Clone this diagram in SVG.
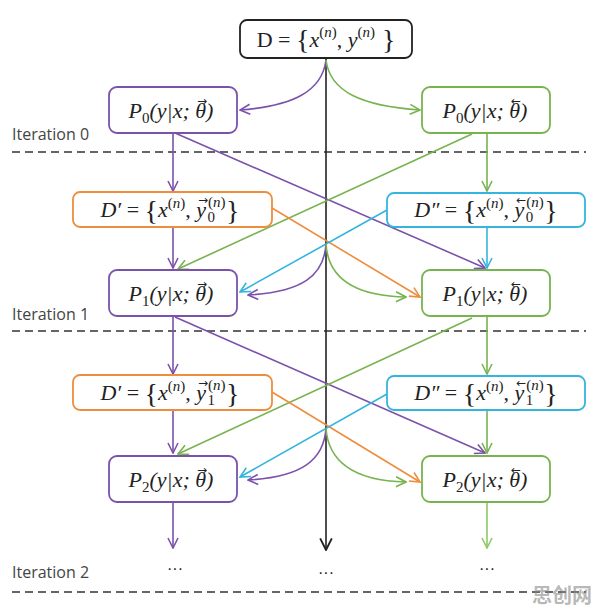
<svg xmlns="http://www.w3.org/2000/svg" width="596" height="609" viewBox="0 0 596 609">
<style>
.box{fill:#fff;stroke-width:1.8}
.pu{stroke:#7b52ab}.gr{stroke:#77b34f}.or{stroke:#ee8d3d}.cy{stroke:#33b5de}.bk{stroke:#222}.lg{stroke:#8dc966}
.m{font-family:"Liberation Serif","DejaVu Serif",serif;font-size:22px;fill:#222}
.i{font-style:italic}
.n{font-style:normal}
.s{font-size:15px}
.a{font-family:"DejaVu Sans",sans-serif;font-size:12px;font-style:normal}
.br{font-size:28px;font-style:normal}
.it{font-family:"Open Sans","Liberation Sans",sans-serif;font-size:16px;fill:#444}
.dots{font-family:"Liberation Sans",sans-serif;font-size:16px;fill:#222}
.dash{stroke:#333;stroke-width:1.6;stroke-dasharray:8 5;fill:none}
.c{fill:none;stroke-width:1.6}
</style>
<defs>
<marker id="aPu" viewBox="0 0 12 12" refX="11" refY="6" markerWidth="12" markerHeight="12" markerUnits="userSpaceOnUse" orient="auto"><path d="M1,1 L11,6 L1,11" fill="none" stroke="#7b52ab" stroke-width="1.6"/></marker>
<marker id="aGr" viewBox="0 0 12 12" refX="11" refY="6" markerWidth="12" markerHeight="12" markerUnits="userSpaceOnUse" orient="auto"><path d="M1,1 L11,6 L1,11" fill="none" stroke="#77b34f" stroke-width="1.6"/></marker>
<marker id="aOr" viewBox="0 0 12 12" refX="11" refY="6" markerWidth="12" markerHeight="12" markerUnits="userSpaceOnUse" orient="auto"><path d="M1,1 L11,6 L1,11" fill="none" stroke="#ee8d3d" stroke-width="1.6"/></marker>
<marker id="aCy" viewBox="0 0 12 12" refX="11" refY="6" markerWidth="12" markerHeight="12" markerUnits="userSpaceOnUse" orient="auto"><path d="M1,1 L11,6 L1,11" fill="none" stroke="#33b5de" stroke-width="1.6"/></marker>
<marker id="aBk" viewBox="0 0 12 12" refX="11" refY="6" markerWidth="14" markerHeight="14" markerUnits="userSpaceOnUse" orient="auto"><path d="M1,1 L11,6 L1,11" fill="none" stroke="#222" stroke-width="1.6"/></marker>
<marker id="aLg" viewBox="0 0 12 12" refX="11" refY="6" markerWidth="12" markerHeight="12" markerUnits="userSpaceOnUse" orient="auto"><path d="M1,1 L11,6 L1,11" fill="none" stroke="#8dc966" stroke-width="1.6"/></marker>
</defs>

<g id="separators">
<line class="dash" x1="12" y1="152" x2="586" y2="152"/>
<line class="dash" x1="12" y1="331" x2="586" y2="331"/>
<line class="dash" x1="12" y1="592" x2="586" y2="592"/>
<text class="it" x="12" y="140">Iteration 0</text>
<text class="it" x="12" y="320">Iteration 1</text>
<text class="it" x="12" y="578">Iteration 2</text>
<text class="dots" x="175" y="574" text-anchor="middle">···</text>
<text class="dots" x="326" y="578" text-anchor="middle">···</text>
<text class="dots" x="487" y="574" text-anchor="middle">···</text>
</g>

<g id="connectors">
<line class="c bk" x1="326" y1="58" x2="326" y2="550" marker-end="url(#aBk)"/>
<path class="c pu" d="M326,60 C322,92 292,106 240,110" marker-end="url(#aPu)"/>
<path class="c gr" d="M326,60 C330,92 362,106 420,110" marker-end="url(#aGr)"/>
<line class="c pu" x1="173" y1="133" x2="173" y2="191" marker-end="url(#aPu)"/>
<line class="c pu" x1="175" y1="133" x2="485" y2="268" marker-end="url(#aPu)"/>
<line class="c gr" x1="487" y1="133" x2="487" y2="191" marker-end="url(#aGr)"/>
<line class="c gr" x1="472" y1="134" x2="178" y2="269" marker-end="url(#aGr)"/>
<line class="c pu" x1="173" y1="227" x2="173" y2="268" marker-end="url(#aPu)"/>
<line class="c or" x1="272" y1="208" x2="420" y2="297" marker-end="url(#aOr)"/>
<line class="c cy" x1="387" y1="210" x2="240" y2="292" marker-end="url(#aCy)"/>
<line class="c cy" x1="487" y1="227" x2="487" y2="268" marker-end="url(#aCy)"/>
<path class="c pu" d="M326,244 C324,276 302,292 248,295" marker-end="url(#aPu)"/>
<path class="c gr" d="M326,244 C328,276 352,296 406,297" marker-end="url(#aGr)"/>
<line class="c pu" x1="173" y1="317" x2="173" y2="374" marker-end="url(#aPu)"/>
<line class="c pu" x1="175" y1="317" x2="485" y2="453" marker-end="url(#aPu)"/>
<line class="c gr" x1="487" y1="317" x2="487" y2="374" marker-end="url(#aGr)"/>
<line class="c gr" x1="472" y1="318" x2="178" y2="454" marker-end="url(#aGr)"/>
<line class="c pu" x1="173" y1="411" x2="173" y2="453" marker-end="url(#aPu)"/>
<line class="c or" x1="272" y1="392" x2="420" y2="482" marker-end="url(#aOr)"/>
<line class="c cy" x1="387" y1="394" x2="240" y2="477" marker-end="url(#aCy)"/>
<line class="c gr" x1="487" y1="411" x2="487" y2="453" marker-end="url(#aGr)"/>
<path class="c pu" d="M326,428 C324,460 302,477 248,480" marker-end="url(#aPu)"/>
<path class="c gr" d="M326,428 C328,460 352,481 406,482" marker-end="url(#aGr)"/>
<line class="c pu" x1="173" y1="502" x2="173" y2="548" marker-end="url(#aPu)"/>
<line class="c lg" x1="487" y1="502" x2="487" y2="548" marker-end="url(#aLg)"/>
</g>

<g id="D">
<rect class="box bk" x="240" y="20" width="172" height="38" rx="7"/>
<text class="m" x="326" y="47" text-anchor="middle" font-size="24">D = <tspan class="br" dy="2" font-size="30">{</tspan><tspan class="i" dy="-2">x</tspan><tspan class="s" dy="-10" font-size="16">(<tspan class="i">n</tspan>)</tspan><tspan dy="10">, </tspan><tspan class="i">y</tspan><tspan class="s" dy="-10" font-size="16">(<tspan class="i">n</tspan>)</tspan><tspan class="br" dy="12" font-size="30"> }</tspan></text>
</g>

<g id="P0L">
<rect class="box pu" x="109" y="87" width="128" height="46" rx="8"/>
<text class="m i" x="171" y="118" text-anchor="middle">P<tspan class="s n" dy="5">0</tspan><tspan dy="-5">(y|x; θ</tspan><tspan class="a" dx="-9" dy="-13">→</tspan><tspan dx="-1" dy="13">)</tspan></text>
</g>
<g id="P0R">
<rect class="box gr" x="422" y="87" width="128" height="46" rx="8"/>
<text class="m i" x="485" y="118" text-anchor="middle">P<tspan class="s n" dy="5">0</tspan><tspan dy="-5">(y|x; θ</tspan><tspan class="a" dx="-9" dy="-13">←</tspan><tspan dx="-1" dy="13">)</tspan></text>
</g>

<g id="D1L">
<rect class="box or" x="73" y="192" width="199" height="35" rx="7"/>
<text class="m" x="170" y="217" text-anchor="middle"><tspan class="i">D′</tspan> = <tspan class="br" dy="3">{</tspan><tspan class="i" dy="-3">x</tspan><tspan class="s" dy="-9">(<tspan class="i">n</tspan>)</tspan><tspan dy="9">, </tspan><tspan class="i">y</tspan><tspan class="a" dx="-8" dy="-13">→</tspan><tspan class="s" dx="0" dy="3">(<tspan class="i">n</tspan>)</tspan><tspan class="s" dx="-18" dy="15">0</tspan><tspan class="br" dx="11" dy="-2">}</tspan></text>
</g>
<g id="D1R">
<rect class="box cy" x="387" y="193" width="198" height="34" rx="7"/>
<text class="m" x="486" y="217" text-anchor="middle"><tspan class="i">D″</tspan> = <tspan class="br" dy="3">{</tspan><tspan class="i" dy="-3">x</tspan><tspan class="s" dy="-9">(<tspan class="i">n</tspan>)</tspan><tspan dy="9">, </tspan><tspan class="i">y</tspan><tspan class="a" dx="-8" dy="-13">←</tspan><tspan class="s" dx="0" dy="3">(<tspan class="i">n</tspan>)</tspan><tspan class="s" dx="-18" dy="15">0</tspan><tspan class="br" dx="11" dy="-2">}</tspan></text>
</g>

<g id="P1L">
<rect class="box pu" x="109" y="270" width="128" height="46" rx="8"/>
<text class="m i" x="171" y="301" text-anchor="middle">P<tspan class="s n" dy="5">1</tspan><tspan dy="-5">(y|x; θ</tspan><tspan class="a" dx="-9" dy="-13">→</tspan><tspan dx="-1" dy="13">)</tspan></text>
</g>
<g id="P1R">
<rect class="box gr" x="422" y="270" width="128" height="46" rx="8"/>
<text class="m i" x="485" y="301" text-anchor="middle">P<tspan class="s n" dy="5">1</tspan><tspan dy="-5">(y|x; θ</tspan><tspan class="a" dx="-9" dy="-13">←</tspan><tspan dx="-1" dy="13">)</tspan></text>
</g>

<g id="D2L">
<rect class="box or" x="73" y="375" width="199" height="35" rx="7"/>
<text class="m" x="170" y="400" text-anchor="middle"><tspan class="i">D′</tspan> = <tspan class="br" dy="3">{</tspan><tspan class="i" dy="-3">x</tspan><tspan class="s" dy="-9">(<tspan class="i">n</tspan>)</tspan><tspan dy="9">, </tspan><tspan class="i">y</tspan><tspan class="a" dx="-8" dy="-13">→</tspan><tspan class="s" dx="0" dy="3">(<tspan class="i">n</tspan>)</tspan><tspan class="s" dx="-18" dy="15">1</tspan><tspan class="br" dx="11" dy="-2">}</tspan></text>
</g>
<g id="D2R">
<rect class="box cy" x="387" y="376" width="198" height="34" rx="7"/>
<text class="m" x="486" y="400" text-anchor="middle"><tspan class="i">D″</tspan> = <tspan class="br" dy="3">{</tspan><tspan class="i" dy="-3">x</tspan><tspan class="s" dy="-9">(<tspan class="i">n</tspan>)</tspan><tspan dy="9">, </tspan><tspan class="i">y</tspan><tspan class="a" dx="-8" dy="-13">←</tspan><tspan class="s" dx="0" dy="3">(<tspan class="i">n</tspan>)</tspan><tspan class="s" dx="-18" dy="15">1</tspan><tspan class="br" dx="11" dy="-2">}</tspan></text>
</g>

<g id="P2L">
<rect class="box pu" x="109" y="456" width="128" height="46" rx="8"/>
<text class="m i" x="171" y="487" text-anchor="middle">P<tspan class="s n" dy="5">2</tspan><tspan dy="-5">(y|x; θ</tspan><tspan class="a" dx="-9" dy="-13">→</tspan><tspan dx="-1" dy="13">)</tspan></text>
</g>
<g id="P2R">
<rect class="box gr" x="422" y="456" width="128" height="46" rx="8"/>
<text class="m i" x="485" y="487" text-anchor="middle">P<tspan class="s n" dy="5">2</tspan><tspan dy="-5">(y|x; θ</tspan><tspan class="a" dx="-9" dy="-13">←</tspan><tspan dx="-1" dy="13">)</tspan></text>
</g>

<text x="592" y="603" text-anchor="end" font-family="'Noto Sans CJK SC',sans-serif" font-size="20" font-weight="bold" fill="#888" fill-opacity="0.6">思创网</text>
</svg>
